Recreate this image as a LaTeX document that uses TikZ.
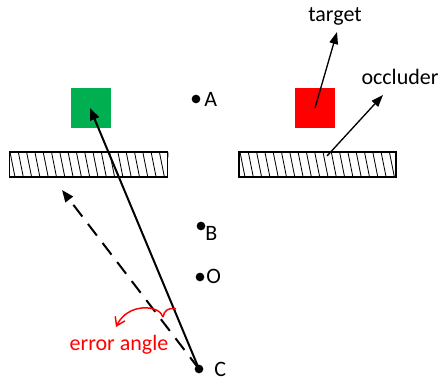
\documentclass[tikz,border=0pt]{standalone}
\usepackage{fontspec}
\setmainfont{Carlito}
\usetikzlibrary{arrows.meta}
\definecolor{sqgreen}{HTML}{00B050}
\definecolor{sqred}{HTML}{FF0000}
\begin{document}
\begin{tikzpicture}[x=0.75pt,y=-0.75pt,
  font=\fontsize{16.5}{19}\selectfont,
  sq/.style={draw=none,minimum size=29.5pt,inner sep=0pt},
  bar/.style={draw,line width=0.8pt,inner sep=0pt,minimum height=18.75pt},
  pt/.style={circle,fill=black,inner sep=0pt,minimum size=6.5pt},
  lbl/.style={inner sep=0pt,anchor=west},
  mainarrow/.style={line width=1.5pt,-{Triangle[length=9pt,width=7pt]}},
  thinarrow/.style={line width=1pt,-{Triangle[length=9pt,width=6.5pt]}},
  hatch/.style={line width=0.6pt}
]
\useasboundingbox (0,0) rectangle (443,384);

% squares
\node[sq,fill=sqgreen] (G) at (91,108) {};
\node[sq,fill=sqred] (R) at (315,108) {};

% bars
\node[bar,minimum width=119pt] (L) at (88.5,164.5) {};
\node[bar,minimum width=117.75pt] (RB) at (317.5,164.5) {};
\begin{scope}
  \clip (L.south west) rectangle (L.north east);
  \foreach \i in {-1,...,19} {
    \draw[hatch] (10+8.3*\i,152) -- (15+8.3*\i,177);
  }
\end{scope}
\begin{scope}
  \clip (RB.south west) rectangle (RB.north east);
  \foreach \i in {-1,...,19} {
    \draw[hatch] (240+8.3*\i,152) -- (245+8.3*\i,177);
  }
\end{scope}

% points
\node[pt] (A) at (196,99) {};
\node[pt] (B) at (201,226) {};
\node[pt] (O) at (200,277) {};
\node[pt] (C) at (199,369) {};
\node[lbl] (Al) at (204,99) {A};
\node[lbl] (Bl) at (205,233) {B};
\node[lbl] (Ol) at (206,276) {O};
\node[lbl] (Cl) at (214,369) {C};

% labels
\node (tgt) at (335,16) {target};
\node (occ) at (400,77) {occluder};
\node[text=red] (err) at (119,345) {error angle};

% arrows
\coordinate (gtip) at (90,108);
\coordinate (dtip) at (62,190);
\draw[mainarrow] (C.center) -- (gtip);
\draw[line width=1.5pt,dash pattern=on 11pt off 7pt,-{Triangle[length=9pt,width=7pt]}] (C.center) -- (dtip);

\coordinate (ttip) at (337,32);
\coordinate (otip) at (383,95);
\coordinate (ostart) at (327,156);
\draw[thinarrow] (R.center) -- (ttip);
\draw[thinarrow] (ostart) -- (otip);

% error angle mark
\coordinate (e1) at (176,309);
\coordinate (e2) at (163,317);
\coordinate (e3) at (116,327);
\draw[red,line width=1.1pt] (e1) .. controls (168,307) and (164,311) .. (e2);
\draw[red,line width=1.1pt,-{Straight Barb[length=6pt,width=8pt]}] (e2) .. controls (160,305) and (128,302) .. (e3);
\end{tikzpicture}
\end{document}
